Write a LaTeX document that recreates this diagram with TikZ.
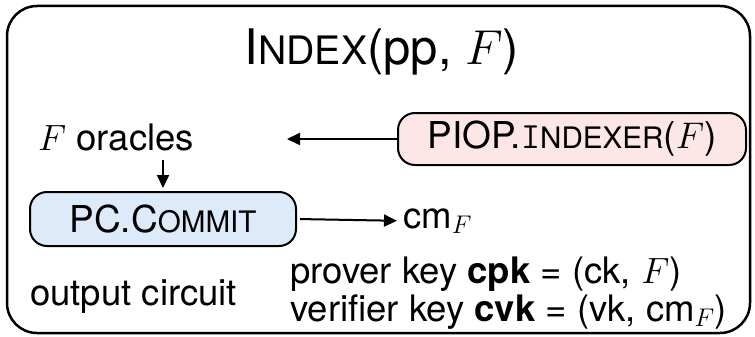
\RequirePackage{fix-cm}
\documentclass[tikz,border=0pt]{standalone}
\usepackage{fontspec}
\setmainfont{TeX Gyre Heros}
\usetikzlibrary{positioning,arrows.meta}
\definecolor{piopfill}{RGB}{252,230,230}
\definecolor{pcfill}{RGB}{220,234,250}
\newcommand{\smallcap}[1]{\scalebox{0.8}{#1}}
\tikzstyle{outer box}=[
        draw,
        line width = 2.5pt,
        rounded corners = 30pt
    ]
\tikzstyle{pink box}=[
    draw,
    line width = 2pt,
    fill = piopfill,
    rounded corners = 17pt,
    minimum width = 348pt,
    minimum height = 52pt
]
\tikzstyle{blue box}=[
    draw,
    line width = 2pt,
    fill = pcfill,
    rounded corners = 17pt,
    minimum width = 266pt,
    minimum height = 54pt
]
\tikzstyle{txt}=[inner sep = 0pt, font = \fontsize{37}{42}\selectfont]
\tikzstyle{big txt}=[inner sep = 0pt, font = \fontsize{36.5}{41}\selectfont]
\tikzstyle{arrow}=[line width = 2pt, -{Triangle[length=13pt, width=12pt]}]

\begin{document}
\begin{tikzpicture}[x = 1pt, y = -1pt]
        \useasboundingbox (0,0) rectangle (755,337);
        \draw[outer box] (7,6) rectangle (750,333);

        \node[txt, font = \fontsize{49}{54}\selectfont, anchor = base] (title) at (382,64) {I\smallcap{NDEX}(pp, $F$)};
        \node[pink box, txt] (indexer) at (572,139) {PIOP.{\ttfamily I}\smallcap{NDEXER}($F$)};
        \node[big txt, anchor = base west] (oracles) at (38,150) {$F$ oracles};
        \coordinate (oracles in) at (287,139);
        \node[blue box, txt] (commit) at (163,219) {PC.C\smallcap{OMMIT}};
        \node[big txt, anchor = base west] (cm) at (403,228) {cm$_F$};
        \node[big txt, anchor = base west] (output) at (30,305) {output circuit};
        \node[big txt, anchor = base west] (cpk) at (290,283) {prover key \textbf{cpk} = (ck, $F$)};
        \node[big txt, anchor = base west] (cvk) at (290,321) {verifier key \textbf{cvk} = (vk, cm$_F$)};

        \draw[arrow] (indexer) -- (oracles in);
        \draw[arrow, shorten < = 9pt, shorten > = 3pt] (oracles.south -| commit.north) -- (commit.north);
        \draw[arrow, shorten < = 3pt, shorten > = 6pt] (commit.east) -- (cm.west);

    \end{tikzpicture}
\end{document}
